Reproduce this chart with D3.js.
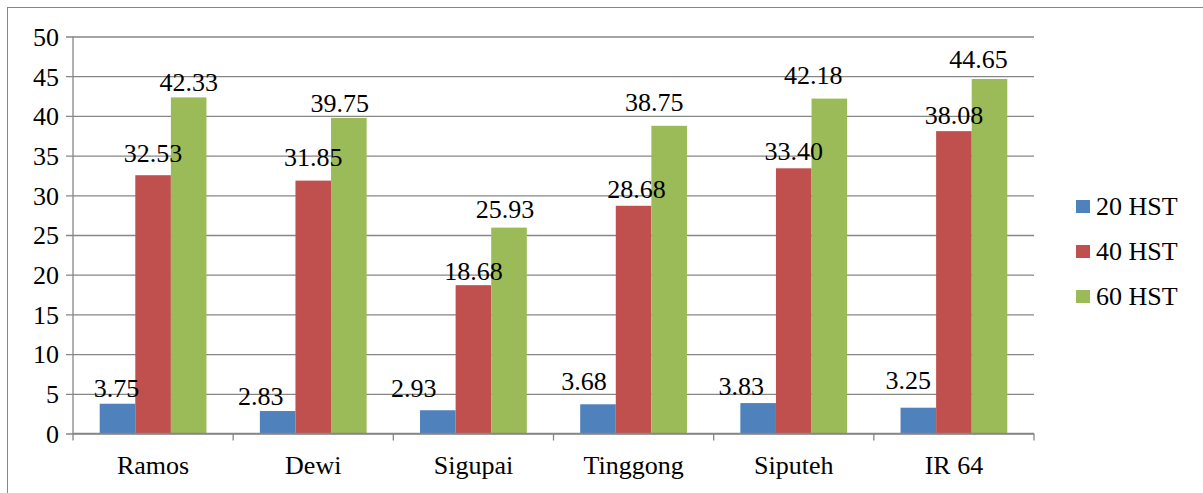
<!DOCTYPE html>
<html>
<head>
<meta charset="utf-8">
<script src="https://cdn.jsdelivr.net/npm/d3@7"></script>
<style>
  html, body { margin: 0; padding: 0; background: #fff; }
  #chart text { font-family: "Liberation Serif" !important; }
</style>
</head>
<body>
<svg id="chart" width="1203" height="493"></svg>
<script>
// Varieties on the x axis
const categories = ["Ramos", "Dewi", "Sigupai", "Tinggong", "Siputeh", "IR 64"];
// Series names (days after planting)
const seriesNames = ["20 HST", "40 HST", "60 HST"];
// Values per series, one per variety
const hst20 = [3.75, 2.83, 2.93, 3.68, 3.83, 3.25];
const hst40 = [32.53, 31.85, 18.68, 28.68, 33.40, 38.08];
const hst60 = [42.33, 39.75, 25.93, 38.75, 42.18, 44.65];
// Y axis ticks
const yTicks = [0, 5, 10, 15, 20, 25, 30, 35, 40, 45, 50];

// Series colours
const colors = ["#4F81BD", "#C0504D", "#9BBB59"];
// Hand-placed nudges [dx, dy] for the value labels (dy measured from the bar top)
const labelNudge20 = [[-1, -7], [-17, -6], [-24, -13], [-14, -14], [-17, -8], [-10, -19]];
const labelNudge40 = [[0, -13], [0, -15], [0, -5], [3, -8], [0, -8], [0, -7]];
const labelNudge60 = [[0, -6], [-9, -6], [-4, -10], [-15, -15], [-16, -15], [-11, -11]];

const series = [hst20, hst40, hst60];
const nudges = [labelNudge20, labelNudge40, labelNudge60];

const FONT = '"Liberation Serif"';
const fontSize = 26;

const svg = d3.select("#chart");

// outer frame
svg.append("rect")
  .attr("x", 7.5).attr("y", 7.5)
  .attr("width", 1210).attr("height", 500)
  .attr("fill", "none").attr("stroke", "#868686").attr("stroke-width", 1);

const plot = { left: 73, right: 1034, top: 36.5, bottom: 433.5 };

const y = d3.scaleLinear().domain([0, 50]).range([plot.bottom, plot.top]);
const x0 = d3.scaleBand().domain(categories).range([plot.left, plot.right]).padding(0);
const step = x0.bandwidth();
const x1 = d3.scaleBand().domain(seriesNames).range([step / 6, step * 5 / 6]).padding(0);

// gridlines + y axis
const yAxis = d3.axisLeft(y).tickValues(yTicks).tickSize(-(plot.right - plot.left)).tickSizeOuter(0).tickPadding(14);
const gy = svg.append("g").attr("transform", `translate(${plot.left},0)`).call(yAxis)
  .attr("font-family", null).attr("font-size", null);
gy.select(".domain").remove();
gy.selectAll(".tick line")
  .attr("x1", -7)
  .attr("stroke", "#868686").attr("stroke-width", 1.3);
gy.selectAll(".tick text")
  .style("font-family", FONT).style("font-size", fontSize + "px")
  .attr("dy", "0.34em").attr("fill", "#000");
svg.append("line")
  .attr("x1", plot.left).attr("x2", plot.left)
  .attr("y1", plot.top).attr("y2", plot.bottom)
  .attr("stroke", "#868686").attr("stroke-width", 1.3);

// bars
const groups = svg.append("g").selectAll("g")
  .data(categories)
  .join("g")
  .attr("transform", d => `translate(${x0(d)},0)`);

groups.selectAll("rect")
  .data((c, i) => series.map((s, k) => ({ key: seriesNames[k], k, v: s[i] })))
  .join("rect")
  .attr("x", d => x1(d.key))
  .attr("y", d => y(d.v))
  .attr("width", x1.bandwidth())
  .attr("height", d => y(0) - y(d.v))
  .attr("fill", d => colors[d.k]);

// value labels
groups.selectAll("text.val")
  .data((c, i) => series.map((s, k) => ({ key: seriesNames[k], k, v: s[i], n: nudges[k][i] })))
  .join("text")
  .attr("class", "val")
  .attr("x", d => x1(d.key) + x1.bandwidth() / 2 + d.n[0])
  .attr("y", d => y(d.v) + d.n[1])
  .attr("text-anchor", "middle")
  .style("font-family", FONT).style("font-size", fontSize + "px")
  .attr("fill", "#000")
  .text(d => d.v.toFixed(2));

// x axis
const xAxis = d3.axisBottom(x0).tickSize(0).tickPadding(22);
const gx = svg.append("g").attr("transform", `translate(0,${plot.bottom})`).call(xAxis)
  .attr("font-family", null).attr("font-size", null);
gx.select(".domain").attr("stroke", "#868686").attr("stroke-width", 1.3)
  .attr("d", `M${plot.left},0H${plot.right}`);
gx.selectAll(".tick text")
  .style("font-family", FONT).style("font-size", fontSize + "px")
  .attr("dy", "0.71em").attr("fill", "#000");
// category boundary ticks
gx.selectAll("line.bound")
  .data(d3.range(categories.length + 1))
  .join("line")
  .attr("class", "bound")
  .attr("x1", i => plot.left + i * step).attr("x2", i => plot.left + i * step)
  .attr("y1", 0).attr("y2", 7)
  .attr("stroke", "#868686").attr("stroke-width", 1.3);

// legend
const legend = svg.append("g").attr("transform", "translate(1076,200)");
const li = legend.selectAll("g").data(seriesNames).join("g")
  .attr("transform", (d, i) => `translate(0,${i * 45})`);
li.append("rect").attr("width", 14).attr("height", 13).attr("fill", (d, i) => colors[i]);
li.append("text").attr("x", 20).attr("y", 15)
  .style("font-family", FONT).style("font-size", fontSize + "px")
  .attr("fill", "#000")
  .text(d => d);
</script>
</body>
</html>
